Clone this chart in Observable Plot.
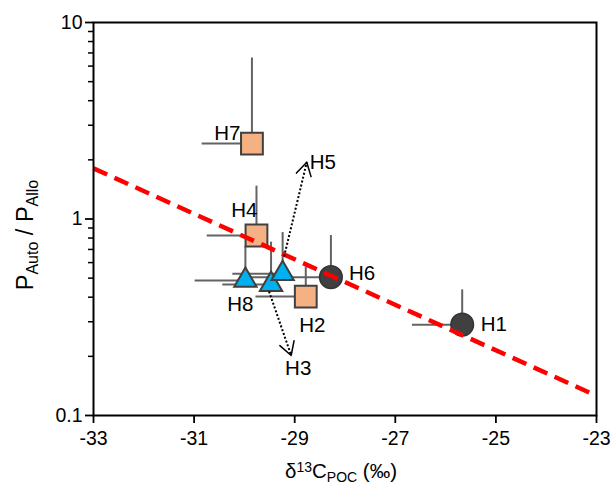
<!DOCTYPE html>
<html><head><meta charset="utf-8">
<script src="https://cdn.jsdelivr.net/npm/d3@7"></script>
<script src="https://cdn.jsdelivr.net/npm/@observablehq/plot@0.6"></script>
<style>
body{margin:0;background:#fff;}
#chart svg{display:block;}
</style>
</head><body><div id="chart"></div>
<script>
// ---- data ----
const ids      = ["H1","H2","H3","H4","H5","H6","H7","H8"];
const groups   = ["circle","square","triangle","square","triangle","circle","square","triangle"];
const d13C     = [-25.67,-28.78,-29.47,-29.76,-29.24,-28.28,-29.85,-29.98];
const ratio    = [0.290, 0.403, 0.464, 0.824, 0.527, 0.506, 2.42, 0.487];
const xErrLow  = [-26.66,-29.77,-30.43,-30.74,-30.23,-29.90,-30.84,-30.98];
const yErrHigh = [0.436, 0.569, 0.762, 1.47, 0.853, 0.824, 6.6, 0.724];
const labelX   = [-25.04,-28.65,-28.93,-30.00,-28.44,-27.66,-30.34,-30.08];
const labelY   = [0.290, 0.287, 0.1745,1.10, 1.94, 0.531, 2.72, 0.369];

const arrowIds = ["H5","H3"];
const arrowX1  = [-29.21,-29.51];
const arrowY1  = [0.645, 0.428];
const arrowX2  = [-28.76,-29.07];
const arrowY2  = [1.945, 0.202];

const trendX = [-33, -23];
const trendY = [1.81, 0.126];

const xTicks = [-33,-31,-29,-27,-25,-23];
const yTicks = [0.1, 1, 10];
const yMinor = [0.2,0.3,0.4,0.5,0.6,0.7,0.8,0.9,2,3,4,5,6,7,8,9];

// ---- build ----
const W = 613, H = 488, mL = 93, mR = 17, mT = 22, mB = 73;
const pts = ids.map((id,i)=>({id, g:groups[i], x:d13C[i], y:ratio[i], xl:xErrLow[i], yh:yErrHigh[i], lx:labelX[i], ly:labelY[i]}));
const arrows = arrowIds.map((id,i)=>({id, x1:arrowX1[i], y1:arrowY1[i], x2:arrowX2[i], y2:arrowY2[i]}));
const trend = trendX.map((x,i)=>({x, y:trendY[i]}));

// pixel scales mirroring the plot's, used only to size the solid arrowheads
const sx = d3.scaleLinear([-33,-23],[mL, W-mR]);
const sy = d3.scaleLog([0.1,10],[H-mB, mT]);

const font = "Liberation Sans, Arial, Helvetica, sans-serif";
const errColor = "#636363";

const marks = [
  Plot.ruleX(pts, {x:"x", y1:"y", y2:"yh", stroke:errColor, strokeWidth:2}),
  Plot.ruleY(pts, {y:"y", x1:"xl", x2:"x", stroke:errColor, strokeWidth:2}),
  Plot.dot(pts.filter(d=>d.g==="square"), {x:"x", y:"y", symbol:"square", r:12.3, fill:"#F4B183", stroke:"#404040", strokeWidth:2}),
  Plot.dot(pts.filter(d=>d.g==="circle"), {x:"x", y:"y", symbol:"circle", r:11.3, fill:"#404040", stroke:"#353535", strokeWidth:1.5}),
  Plot.dot(pts.filter(d=>d.g==="triangle"), {x:"x", y:"y", symbol:"triangle", r:8.3, fill:"#00B0F0", stroke:"#404040", strokeWidth:2}),
  Plot.line(trend, {x:"x", y:"y", stroke:"#FF0000", strokeWidth:4.5, strokeDasharray:"15,8", strokeLinecap:"butt"}),
  Plot.link(arrows, {x1:"x1", y1:"y1", x2:"x2", y2:"y2", stroke:"#000", strokeWidth:2, strokeDasharray:"2,2"}),
  ...arrows.map(a=>{
    const len = Math.hypot(sx(a.x2)-sx(a.x1), sy(a.y2)-sy(a.y1));
    return Plot.arrow([a], {x1:"x1", y1:"y1", x2:"x2", y2:"y2", stroke:"#000", strokeWidth:1.5,
      headLength:15, headAngle:60, insetStart: len-1});
  }),
  Plot.text(pts, {x:"lx", y:"ly", text:"id", fontSize:20.5, fill:"#000", textAnchor:"middle"}),
  Plot.axisX({ticks:xTicks, tickFormat:d=>String(d), tickSize:8, tickPadding:8, fontSize:19.5, strokeWidth:1.8, label:null}),
  Plot.axisY({ticks:yTicks, tickFormat:d=>String(d), tickSize:8, tickPadding:3, fontSize:19.5, strokeWidth:1.8, label:null}),
  Plot.axisY({ticks:yMinor, tickFormat:()=> "", tickSize:5, strokeWidth:1.5, label:null}),
  Plot.frame({stroke:"#000", strokeWidth:2})
];

const chart = Plot.plot({
  width: W, height: H,
  marginLeft: mL, marginRight: mR, marginTop: mT, marginBottom: mB,
  style: {fontFamily: font, fontSize: "19px", color:"#000", background:"#fff", overflow:"visible"},
  x: {domain:[-33,-23], label:null},
  y: {type:"log", domain:[0.1,10], label:null},
  marks
});
document.getElementById("chart").appendChild(chart);

// axis titles with sub/superscripts
const svg = d3.select(chart);
const xt = svg.append("text")
  .attr("x", 341).attr("y", 478)
  .attr("text-anchor","middle")
  .attr("font-family", font).attr("font-size", 20.5).attr("fill","#000");
xt.append("tspan").text("δ");
xt.append("tspan").attr("font-size",14).attr("dy",-6).text("13");
xt.append("tspan").attr("dy",6).text("C");
xt.append("tspan").attr("font-size",14).attr("dy",4).text("POC");
xt.append("tspan").attr("dy",-4).text(" (‰)");

const yt = svg.append("text")
  .attr("transform","translate(33,235) rotate(-90)")
  .attr("text-anchor","middle")
  .attr("font-family", font).attr("font-size", 23.5).attr("fill","#000");
yt.append("tspan").text("P");
yt.append("tspan").attr("font-size",16).attr("dy",5).text("Auto");
yt.append("tspan").attr("dy",-5).text(" / P");
yt.append("tspan").attr("font-size",16).attr("dy",5).text("Allo");
</script>
</body></html>
